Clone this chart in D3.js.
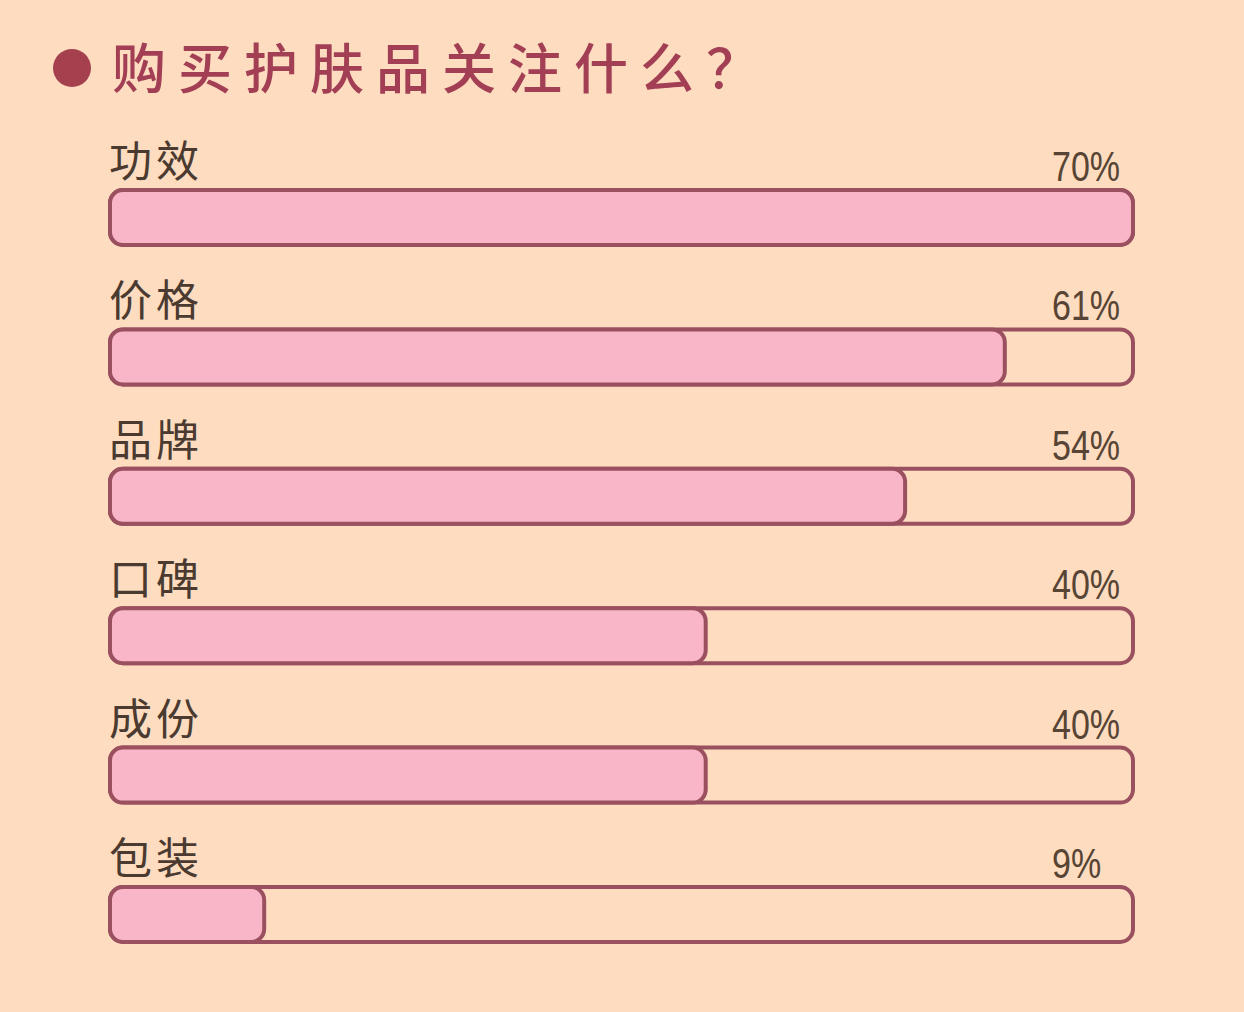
<!DOCTYPE html>
<html><head><meta charset="utf-8">
<script src="https://cdn.jsdelivr.net/npm/d3@7"></script>
<style>
html,body{margin:0;padding:0;background:#fddcc0;}
svg{display:block;}
</style></head>
<body>
<svg id="c" width="1244" height="1012"></svg>
<script>
const title = "购买护肤品关注什么？";
const categories = ["功效", "价格", "品牌", "口碑", "成份", "包装"];
const values = [70, 61, 54, 40, 40, 9];
const valueLabels = ["70%", "61%", "54%", "40%", "40%", "9%"];

const W = 1244, H = 1012;
const svg = d3.select("#c");
svg.append("rect").attr("width", W).attr("height", H).attr("fill", "#fddcc0");

const barLeft = 110, barRight = 1133, barH = 55;
const y = d3.scalePoint().domain(categories).range([190, 887]);
const x = d3.scaleLinear().domain([0, 70]).range([barLeft + 26, barRight]);

// title
svg.append("circle").attr("cx", 72).attr("cy", 68).attr("r", 19).attr("fill", "#a5404f");
svg.append("text").attr("x", 112).attr("y", 89)
  .attr("font-family", "'Noto Sans CJK SC'").attr("font-weight", 500)
  .attr("font-size", 54).attr("letter-spacing", 12).attr("fill", "#a33f55")
  .text(title);

const stroke = "#9b5060";
const g = svg.append("g");
const rows = g.selectAll("g.row").data(categories).join("g").attr("class", "row");

rows.append("text")
  .attr("x", barLeft - 1).attr("y", d => y(d) - 13)
  .attr("font-family", "'Noto Sans CJK SC'").attr("font-size", 43)
  .attr("letter-spacing", 4)
  .attr("fill", "#4a3a30").text(d => d);

rows.append("g")
  .attr("transform", d => `translate(1052,${y(d) - 9}) scale(0.81,1)`)
  .append("text")
  .attr("x", 0).attr("y", 0)
  .attr("font-family", "'Liberation Sans', sans-serif").attr("font-size", 42)
  .attr("fill", "#574434").text((d, i) => valueLabels[i]);

rows.append("rect")
  .attr("x", barLeft).attr("y", d => y(d))
  .attr("width", barRight - barLeft).attr("height", barH)
  .attr("rx", 13).attr("fill", "none")
  .attr("stroke", stroke).attr("stroke-width", 4);

rows.append("rect")
  .attr("x", barLeft).attr("y", d => y(d))
  .attr("width", (d, i) => x(values[i]) - barLeft).attr("height", barH)
  .attr("rx", 13).attr("fill", "#f9b6c9")
  .attr("stroke", stroke).attr("stroke-width", 4);
</script>
</body></html>
